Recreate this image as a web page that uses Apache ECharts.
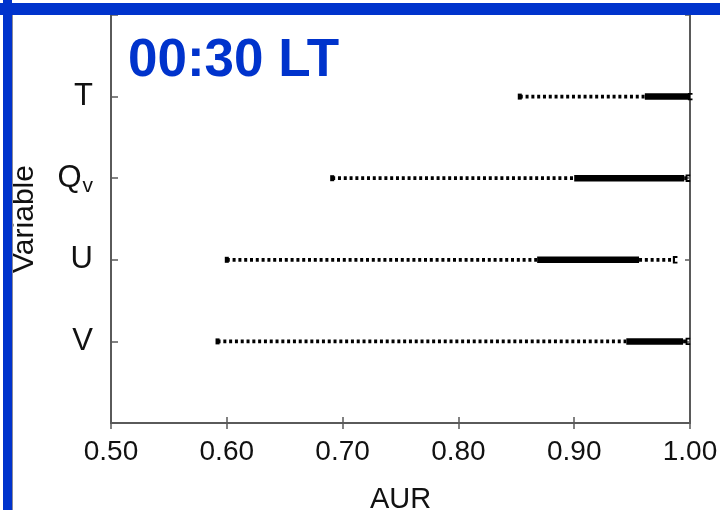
<!DOCTYPE html>
<html>
<head>
<meta charset="utf-8">
<title>AUR by variable, 00:30 LT</title>
<script src="https://cdn.jsdelivr.net/npm/echarts@6/dist/echarts.min.js"></script>
<style>
  html, body { margin: 0; padding: 0; background: #ffffff; }
  #chart { width: 720px; height: 510px; }
</style>
</head>
<body>
<div id="chart"></div>
<script>
// Variables, top row first
const variables = ['T', 'Qv', 'U', 'V'];
// AUR spread per variable: minimum, lower quartile, upper quartile, maximum
const minAUR = [0.853, 0.691, 0.600, 0.592];
const q1AUR  = [0.961, 0.900, 0.868, 0.945];
const q3AUR  = [1.000, 0.995, 0.956, 0.994];
const maxAUR = [1.000, 0.998, 0.987, 0.998];
// X tick labels
const xTickLabels = ['0.50', '0.60', '0.70', '0.80', '0.90', '1.00'];

const BLUE = '#0033cc';
const FONT = '"Liberation Sans", Arial, Helvetica, sans-serif';
const AXIS_COLOR = '#5a5a5a';

// Rows are stacked from the bottom: the last variable sits at 1
const rows = variables.map((name, i) => [variables.length - i, minAUR[i], q1AUR[i], q3AUR[i], maxAUR[i]]);

const yLabelFor = {};
variables.forEach((name, i) => {
  yLabelFor[variables.length - i] = name === 'Qv' ? '{main|Q}{sub|v}' : '{main|' + name + '}';
});

function renderRow(params, api) {
  const pos = api.value(0);
  const pMin = api.coord([api.value(1), pos]);
  const pQ1 = api.coord([api.value(2), pos]);
  const pQ3 = api.coord([api.value(3), pos]);
  const pMax = api.coord([api.value(4), pos]);
  const y = pMin[1];
  const dotted = { stroke: '#000', lineWidth: 3.8, lineDash: [3, 2.8], fill: null };
  return {
    type: 'group',
    children: [
      { type: 'line', shape: { x1: pMin[0], y1: y, x2: pQ1[0], y2: y }, style: dotted },
      { type: 'line', shape: { x1: pQ3[0], y1: y, x2: pMax[0], y2: y }, style: dotted },
      { type: 'polyline',
        shape: { points: [[pMax[0] + 2.5, y - 2.8], [pMax[0] - 1.2, y - 2.8], [pMax[0] - 1.2, y + 2.8], [pMax[0] + 2.5, y + 2.8]] },
        style: { stroke: '#000', lineWidth: 1.8, fill: null } },
      { type: 'line', shape: { x1: pQ1[0], y1: y, x2: pQ3[0], y2: y },
        style: { stroke: '#000', lineWidth: 6.5, lineCap: 'butt' } },
      { type: 'rect', shape: { x: pMin[0] - 2, y: y - 3, width: 4, height: 6 },
        style: { fill: '#000' } }
    ]
  };
}

const chart = echarts.init(document.getElementById('chart'), null, { renderer: 'canvas' });

const tickStyle = { show: true, inside: true, length: 6, lineStyle: { color: AXIS_COLOR, width: 1.5 } };
const lineStyle = { show: true, lineStyle: { color: AXIS_COLOR, width: 2 } };

chart.setOption({
  animation: false,
  backgroundColor: '#ffffff',
  grid: { left: 111, right: 30, top: 15, bottom: 87, containLabel: false, outerBoundsMode: 'none' },
  xAxis: [
    {
      type: 'value', position: 'bottom', min: 0.5, max: 1.0, interval: 0.1,
      name: 'AUR', nameLocation: 'middle', nameGap: 62,
      nameTextStyle: { fontFamily: FONT, fontSize: 29, color: '#111' },
      axisLine: lineStyle, axisTick: tickStyle, splitLine: { show: false },
      axisLabel: {
        margin: 15, fontFamily: FONT, fontSize: 28, color: '#111',
        formatter: (v) => xTickLabels[Math.round((v - 0.5) * 10)] || ''
      }
    },
    {
      type: 'value', position: 'top', min: 0.5, max: 1.0, interval: 0.1,
      axisLine: lineStyle, axisTick: tickStyle, axisLabel: { show: false }, splitLine: { show: false }
    }
  ],
  yAxis: [
    {
      type: 'value', position: 'left', min: 0, max: 5, interval: 1,
      name: 'Variable', nameLocation: 'middle', nameGap: 71, nameRotate: 90,
      nameTextStyle: { fontFamily: FONT, fontSize: 30, color: '#111' },
      axisLine: lineStyle, axisTick: Object.assign({}, tickStyle, { length: 7 }), splitLine: { show: false },
      axisLabel: {
        margin: 18, fontFamily: FONT, color: '#111',
        formatter: (v) => yLabelFor[v] || '',
        rich: {
          main: { fontFamily: FONT, fontSize: 31, color: '#111' },
          sub: { fontFamily: FONT, fontSize: 21, color: '#111', verticalAlign: 'bottom', padding: [16, 0, 0, 1] }
        }
      }
    },
    {
      type: 'value', position: 'right', min: 0, max: 5, interval: 1,
      axisLine: lineStyle, axisTick: Object.assign({}, tickStyle, { length: 5 }),
      axisLabel: { show: false }, splitLine: { show: false }
    }
  ],
  series: [
    {
      type: 'custom',
      renderItem: renderRow,
      data: rows,
      encode: { y: 0, x: [1, 2, 3, 4] },
      xAxisIndex: 0, yAxisIndex: 0,
      clip: false,
      silent: true
    }
  ],
  graphic: [
    { type: 'rect', z: 100, shape: { x: 0, y: 3, width: 720, height: 12 }, style: { fill: BLUE } },
    { type: 'rect', z: 100, shape: { x: 3, y: 0, width: 9, height: 510 }, style: { fill: BLUE } },
    { type: 'line', z: 101, shape: { x1: 12.5, y1: 15, x2: 12.5, y2: 510 }, style: { stroke: '#8a8a9a', lineWidth: 1 } },
    {
      type: 'text', z: 100, left: 128, top: 35,
      style: { text: '00:30 LT', fontFamily: FONT, fontSize: 53, fontWeight: 'bold', fill: BLUE }
    }
  ]
});
</script>
</body>
</html>
